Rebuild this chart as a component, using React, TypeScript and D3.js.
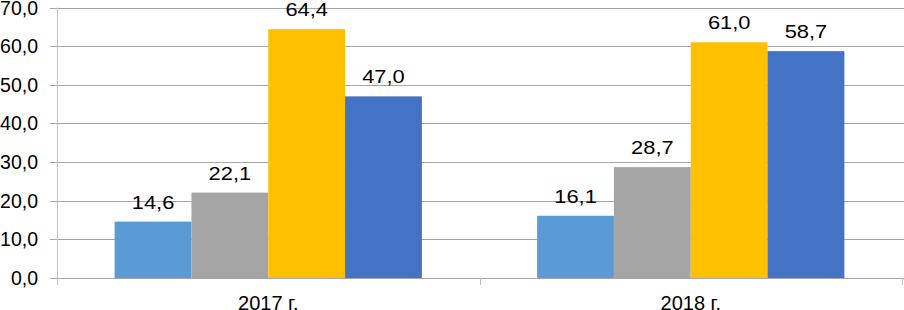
import { useEffect, useRef } from 'react';
import * as d3 from 'd3';

const years = ['2017 г.', '2018 г.'];
const seriesNames = ['s1', 's2', 's3', 's4'];
const seriesColors = ['#5B9BD5', '#A5A5A5', '#FFC000', '#4472C4'];
const values2017 = [14.6, 22.1, 64.4, 47.0];
const values2018 = [16.1, 28.7, 61.0, 58.7];
const yTicks = [0, 10, 20, 30, 40, 50, 60, 70];

const App = () => {
    const svgRef = useRef<SVGSVGElement>(null);

    useEffect(() => {
        const width = 904;
        const height = 310;
        const margin = { top: 7.5, right: 2, bottom: 32, left: 57 };
        const fmt = (v: number) => v.toFixed(1).replace('.', ',');

        const svg = d3.select(svgRef.current);
        svg.selectAll('*').remove();
        svg.attr('width', width).attr('height', height)
            .style('font-family', 'Arial, "Liberation Sans", sans-serif');

        const x0 = d3.scaleBand().domain(years).range([margin.left, width - margin.right]).paddingInner(0).paddingOuter(0);
        const x1 = d3.scaleBand().domain(seriesNames).range([0, x0.bandwidth()]).paddingOuter(0.75).paddingInner(0);
        const y = d3.scaleLinear().domain([0, 70]).range([height - margin.bottom, margin.top]);

        // gridlines with small ticks on the left
        svg.append('g').selectAll('line').data(yTicks).enter().append('line')
            .attr('x1', margin.left - 7).attr('x2', width)
            .attr('y1', d => Math.round(y(d)) + 0.5).attr('y2', d => Math.round(y(d)) + 0.5)
            .attr('stroke', '#a6a6a6').attr('stroke-width', 1);

        svg.append('g').selectAll('text').data(yTicks).enter().append('text')
            .attr('x', 38).attr('y', d => y(d)).attr('dy', '0.36em')
            .attr('text-anchor', 'end').attr('font-size', 19.5).attr('fill', '#000')
            .text(d => fmt(d));

        // vertical axis + category ticks
        svg.append('line')
            .attr('x1', margin.left + 0.5).attr('x2', margin.left + 0.5)
            .attr('y1', y(70)).attr('y2', y(0) + 7)
            .attr('stroke', '#bfbfbf');
        const sepX = [margin.left, margin.left + x0.bandwidth(), width - margin.right];
        svg.append('g').selectAll('line').data(sepX).enter().append('line')
            .attr('x1', d => Math.round(d) + 0.5).attr('x2', d => Math.round(d) + 0.5)
            .attr('y1', y(0)).attr('y2', y(0) + 7)
            .attr('stroke', '#bfbfbf');

        const groups = [values2017, values2018];
        years.forEach((yr, i) => {
            const g = svg.append('g').attr('transform', `translate(${x0(yr)},0)`);
            const vals = groups[i];
            g.selectAll('rect').data(vals).enter().append('rect')
                .attr('x', (_, j) => x1(seriesNames[j])!)
                .attr('width', x1.bandwidth())
                .attr('y', d => y(d))
                .attr('height', d => y(0) - y(d))
                .attr('fill', (_, j) => seriesColors[j]);
            // labels in the source are stretched horizontally
            g.selectAll('text').data(vals).enter().append('text')
                .attr('transform', (d, j) => `translate(${x1(seriesNames[j])! + x1.bandwidth() / 2},${y(d) - 13}) scale(1.25,1)`)
                .attr('text-anchor', 'middle').attr('font-size', 17.5).attr('fill', '#000')
                .text(d => fmt(d));
        });

        svg.append('g').selectAll('text').data(years).enter().append('text')
            .attr('x', d => x0(d)! + x0.bandwidth() / 2)
            .attr('y', 309.5)
            .attr('text-anchor', 'middle').attr('font-size', 20).attr('fill', '#000')
            .text(d => d);
    }, []);

    return <svg ref={svgRef} style={{ position: 'absolute', left: 0, top: 0 }} />;
};

export default App;
